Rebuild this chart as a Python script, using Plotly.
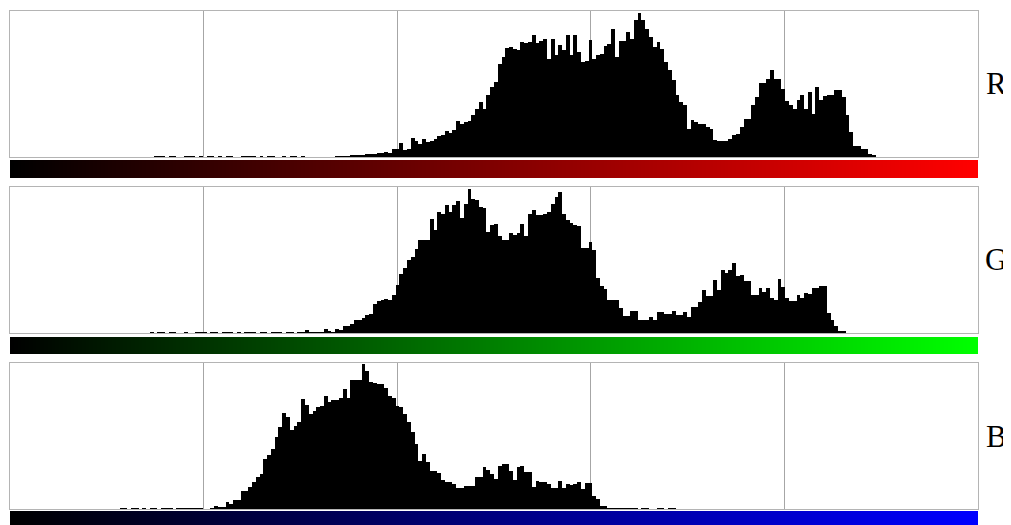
import plotly.graph_objects as go

# ---- data: histogram counts per intensity level (0..255) ----
LEVELS = list(range(256))

R_VALUES = ([0] * 38 +
    [1,1,1,0,1,1,0,0,1,1,1,0,1,0,1,1,0,1,0,1,1,0,0,1,1,1,1,0,1,0,1,1,0,0,1,0,1,1,0,1] +
    [0,0,0,0,0,0,0,0,1] +
    [1,1,1,2,2,2,2,3,3,3,4,4,5,4] +
    [8,8,14,7,8,19,16,13,18,15] +
    [16,18,21,22,26,24,27,36,33,35] +
    [36,42,48,55,48,62,70,75,93,100] +
    [109,110,108,107,115,114,115,122,114,116] +
    [118,98,118,102,112,107,122,102,122,105] +
    [95,96,117,98,102,103,111,113,128,100] +
    [116,116,125,118,137,144,137,128,120,110] +
    [115,108,95,87,77,62,55,52,28,37] +
    [35,33,33,30,28,17,16,16,16,18] +
    [22,23,30,38,38,52,60,74,74,78] +
    [87,78,78,68,56,52,48,57,62,48] +
    [65,43,70,57,61,62,62,67,67,60] +
    [42,25,11,11,8,8,3,2] +
    [0] * 27)

G_VALUES = ([0] * 37 +
    [1,0,1,1,0,1,1,0,0,1,0,0,1,1,1,0,1,1,0,1,1,1,0,1,0,1,1,1,0,1,1,0,1,1,1,0,1,1,0,1,1] +
    [3,1,1,1,1,4,2,1,4,3] +
    [7,7,9,13,13,15,18,19,29,32,33,34,33,38] +
    [48,59,65,73,76,84,93,93,93,114] +
    [103,121,119,128,121,128,132,115,129,144] +
    [134,133,126,125,101,108,109,97,93,93] +
    [100,98,100,109,97,119,123,118,118,119] +
    [121,129,136,141,119,113,110,108,107,85] +
    [85,91,83,55,47,44,33,33,33,25] +
    [17,17,22,22,13,13,13,16,13,21] +
    [21,19,19,22,18,18,21,16,26,26] +
    [31,43,37,37,53,43,63,60,63,70] +
    [57,58,52,52,38,38,45,41,45,35] +
    [33,54,46,35,32,32,38,35,40,39] +
    [45,45,47,47,20,13,7,2,2] +
    [0] * 35)

B_VALUES = ([0] * 29 +
    [1,1,0,1,1,0,1,0,1,1,0,1,1,1,0,1,1,1,1,1,1,1] +
    [0,0,1,3,2,2,7,5,9,9] +
    [18,18,22,27,32,35,50,54,60,72] +
    [82,96,92,79,83,87,110,104,95,98] +
    [102,103,113,107,109,109,111,120,111,129] +
    [129,129,145,138,127,126,125,125,121,113] +
    [111,103,102,95,87,77,65,48,55,47] +
    [38,38,36,29,27,27,25,21,21,23] +
    [23,23,32,32,42,39,35,30,43,45] +
    [45,38,29,42,43,37,37,22,28,27] +
    [27,25,21,21,28,21,25,24,25,27] +
    [20,26,26,13,10,3,3,1,1,1] +
    [1,1,1,1,1,0,1,1,0,0,1,1,0,1,1] +
    [0] * 80)

CHANNELS = ["R", "G", "B"]
CHANNEL_VALUES = [R_VALUES, G_VALUES, B_VALUES]
GRADIENT_END = ["rgb(255,0,0)", "rgb(0,255,0)", "rgb(0,0,255)"]
GRID_LEVELS = [51.2, 102.4, 153.6, 204.8]

# ---- layout geometry (window pixels; page body has an 8px margin) ----
OFF = 8
W, H = 1011 - OFF, 525 - OFF
X0, X1 = 10 - OFF, 978 - OFF
PANELS = [(11, 157), (187, 333), (363, 509)]
BARS = [(160, 178), (337, 354), (511, 525)]
LABEL_Y = [83, 259, 436]
LABEL_X = 996


def ydom(top, bot):
    return [max(0.0, 1 - (bot - OFF) / H), min(1.0, 1 - (top - OFF) / H)]


xdom = [X0 / W, X1 / W]
fig = go.Figure()
layout = {}
ann = []

for i, (name, vals) in enumerate(zip(CHANNELS, CHANNEL_VALUES)):
    hax = 2 * i + 1
    gax = 2 * i + 2
    hs = "" if hax == 1 else str(hax)
    gs = str(gax)
    fig.add_trace(go.Bar(
        x=[v + 0.5 for v in LEVELS], y=vals, width=1,
        marker=dict(color="black", line=dict(width=0)),
        xaxis="x" + hs, yaxis="y" + hs, showlegend=False, hoverinfo="skip"))
    fig.add_trace(go.Heatmap(
        z=[LEVELS], x=[v + 0.5 for v in LEVELS], y=[0],
        colorscale=[[0, "rgb(0,0,0)"], [1, GRADIENT_END[i]]],
        showscale=False, xaxis="x" + gs, yaxis="y" + gs, hoverinfo="skip"))
    layout["xaxis" + hs] = dict(domain=xdom, range=[0, 256], anchor="y" + hs,
                                tickvals=GRID_LEVELS, showticklabels=False, ticks="",
                                showgrid=True, gridcolor="#a6a6a6", gridwidth=1,
                                zeroline=False, showline=True, mirror=True,
                                linecolor="#b4b4b4", linewidth=1, fixedrange=True)
    layout["yaxis" + hs] = dict(domain=ydom(*PANELS[i]), range=[0, 146], anchor="x" + hs,
                                showgrid=False, showticklabels=False, ticks="",
                                zeroline=False, showline=True, mirror=True,
                                linecolor="#b4b4b4", linewidth=1, fixedrange=True)
    layout["xaxis" + gs] = dict(domain=xdom, range=[0, 256], anchor="y" + gs,
                                visible=False, fixedrange=True)
    layout["yaxis" + gs] = dict(domain=ydom(*BARS[i]), range=[-0.5, 0.5], anchor="x" + gs,
                                visible=False, fixedrange=True)
    ann.append(dict(text=name, xref="paper", yref="paper",
                    x=(LABEL_X - OFF) / W, y=1 - (LABEL_Y[i] - OFF) / H,
                    xanchor="center", yanchor="middle", showarrow=False,
                    font=dict(family="Liberation Serif, Times New Roman, serif",
                              size=31, color="black")))

fig.update_layout(**layout)
fig.update_layout(width=W, height=H, margin=dict(l=0, r=0, t=0, b=0),
                  paper_bgcolor="white", plot_bgcolor="white",
                  bargap=0, annotations=ann, showlegend=False)

fig.write_html("out.html", include_plotlyjs=True, config={"displayModeBar": False})
